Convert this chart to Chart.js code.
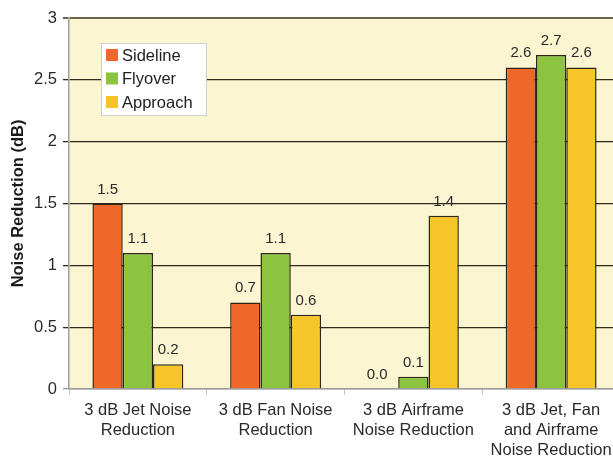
<!DOCTYPE html>
<html><head><meta charset="utf-8">
<script src="https://cdn.jsdelivr.net/npm/chart.js@4/dist/chart.umd.min.js"></script>
<style>
html,body{margin:0;padding:0;background:#fff;overflow:hidden;}
#wrap{width:625px;height:458px;position:relative;}
</style></head><body>
<div id="wrap"><canvas id="c" width="625" height="458"></canvas></div>
<script>
const categories = [
  ["3 dB Jet Noise","Reduction"],
  ["3 dB Fan Noise","Reduction"],
  ["3 dB Airframe","Noise Reduction"],
  ["3 dB Jet, Fan","and Airframe","Noise Reduction"]
];
const seriesNames = ["Sideline","Flyover","Approach"];
const sideline = [1.5, 0.7, 0.0, 2.6];
const flyover  = [1.1, 1.1, 0.1, 2.7];
const approach = [0.2, 0.6, 1.4, 2.6];
const yTicks = [0, 0.5, 1, 1.5, 2, 2.5, 3];
const colors = ["#F0672A", "#8CC43F", "#F6C528"];
const FONT = "'Liberation Sans', Arial, sans-serif";

const bgPlugin = {
  id: 'bg',
  beforeDraw(chart){
    const {ctx, chartArea:a} = chart;
    ctx.save();
    ctx.fillStyle = '#FBF5D2';
    ctx.fillRect(a.left, a.top, a.right-a.left, a.bottom-a.top);
    ctx.restore();
  }
};
const labelPlugin = {
  id: 'vlabels',
  afterDatasetsDraw(chart){
    const ctx = chart.ctx;
    ctx.save();
    ctx.font = '15px ' + FONT;
    ctx.fillStyle = '#2a2a2a';
    ctx.textAlign = 'center';
    ctx.textBaseline = 'alphabetic';
    chart.data.datasets.forEach((ds, di) => {
      const meta = chart.getDatasetMeta(di);
      meta.data.forEach((bar, i) => {
        const v = ds.data[i];
        let x = bar.x;
        if (v === 0) x -= 6;
        ctx.fillText(v.toFixed(1), x, bar.y - 10);
      });
    });
    ctx.restore();
  }
};
const legendPlugin = {
  id: 'boxlegend',
  afterDraw(chart){
    const ctx = chart.ctx;
    const x0 = 101, y0 = 43, w = 105, h = 72;
    ctx.save();
    ctx.fillStyle = '#ffffff';
    ctx.fillRect(x0, y0, w, h);
    ctx.strokeStyle = '#cfcfcf';
    ctx.lineWidth = 1;
    ctx.strokeRect(x0+0.5, y0+0.5, w, h);
    ctx.font = '16.5px ' + FONT;
    ctx.textBaseline = 'middle';
    chart.data.datasets.forEach((ds, i) => {
      const cy = y0 + 12 + i*23.5;
      ctx.fillStyle = ds.backgroundColor;
      ctx.fillRect(x0+5, cy-6, 12, 12);
      ctx.fillStyle = '#222';
      ctx.fillText(ds.label, x0+21, cy+1);
    });
    ctx.restore();
  }
};

new Chart(document.getElementById('c'), {
  type: 'bar',
  data: {
    labels: categories,
    datasets: [
      {label: seriesNames[0], data: sideline, backgroundColor: colors[0]},
      {label: seriesNames[1], data: flyover,  backgroundColor: colors[1]},
      {label: seriesNames[2], data: approach, backgroundColor: colors[2]}
    ].map(d => Object.assign(d, {borderColor:'#2b2618', borderWidth:1.5, borderSkipped:'bottom', barPercentage:1, categoryPercentage:0.66}))
  },
  options: {
    responsive: false,
    animation: false,
    events: [],
    layout: {padding: {top: 18, right: 5, left: 0, bottom: 0}},
    plugins: {legend:{display:false}, tooltip:{enabled:false}},
    scales: {
      x: {
        grid: {display:true, drawOnChartArea:false, tickLength:6, color:'#c4c4c4', offset:true},
        border: {color:'#9a9a9a', width:1.5},
        ticks: {font:{family:FONT, size:16.5, lineHeight:1.22}, color:'#2a2a2a', maxRotation:0, autoSkip:false, padding:5},
        afterFit(s){ s.height = 69; }
      },
      y: {
        min: 0, max: 3,
        afterBuildTicks(s){ s.ticks = yTicks.map(v => ({value:v})); },
        grid: {
          color: c => (c.tick && (c.tick.value === 0)) ? '#9a9a9a' : (c.tick && c.tick.value === 3 ? '#6b6650' : '#2e2a1c'),
          lineWidth: c => (c.tick && c.tick.value === 3) ? 2 : 1.3,
          tickLength: 6
        },
        border: {color:'#a0a0a0', width:1.5},
        ticks: {font:{family:FONT, size:16.5}, color:'#2a2a2a', padding:6, callback: v => String(v)},
        title: {display:true, text:'Noise Reduction (dB)', font:{family:FONT, size:16.5, weight:'bold'}, color:'#1a1a1a', padding:{top:9,bottom:0}},
        afterFit(s){ s.width = 69; }
      }
    }
  },
  plugins: [bgPlugin, labelPlugin, legendPlugin]
});
</script>
</body></html>
